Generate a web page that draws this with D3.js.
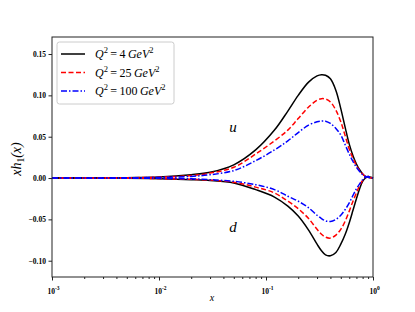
<!DOCTYPE html>
<html><head><meta charset="utf-8">
<script src="https://cdn.jsdelivr.net/npm/d3@7"></script>
<style>body{margin:0;background:#fff}svg{display:block}</style>
</head><body><svg id="c" width="415" height="312"></svg>
<script>
const xs = [0.001,0.002,0.005,0.01,0.02,0.03,0.05,0.08,0.12,0.16,0.2,0.25,0.3,0.33,0.36,0.4,0.45,0.5,0.55,0.6,0.65,0.7,0.75,0.8,0.85,0.9,0.95,1.0];
const u4   = [0,0.0001,0.0005,0.0012,0.004,0.007,0.016,0.034,0.058,0.081,0.100,0.116,0.1235,0.125,0.1243,0.120,0.106,0.084,0.061,0.041,0.027,0.017,0.010,0.005,0.002,0.001,0.0003,0];
const u25  = [0,0.0001,0.0004,0.001,0.003,0.006,0.013,0.029,0.045,0.058,0.072,0.086,0.094,0.096,0.0956,0.092,0.082,0.068,0.051,0.035,0.024,0.015,0.009,0.005,0.002,0.001,0.0003,0];
const u100 = [0,0.0001,0.0003,0.0008,0.002,0.004,0.009,0.021,0.034,0.045,0.055,0.064,0.068,0.069,0.0688,0.066,0.060,0.052,0.040,0.029,0.020,0.013,0.008,0.004,0.002,0.001,0.0003,0];
const d4   = [0,-0.0001,-0.0003,-0.0008,-0.002,-0.003,-0.006,-0.014,-0.023,-0.034,-0.046,-0.063,-0.080,-0.088,-0.093,-0.094,-0.090,-0.080,-0.068,-0.054,-0.039,-0.025,-0.013,-0.004,0.000,0.002,0.001,0];
const d25  = [0,-0.0001,-0.0002,-0.0006,-0.0015,-0.0025,-0.005,-0.011,-0.018,-0.028,-0.037,-0.049,-0.062,-0.068,-0.0715,-0.0726,-0.069,-0.062,-0.052,-0.040,-0.028,-0.018,-0.009,-0.003,0.001,0.002,0.001,0];
const d100 = [0,-0.0001,-0.0002,-0.0004,-0.001,-0.002,-0.004,-0.008,-0.014,-0.022,-0.028,-0.036,-0.045,-0.049,-0.0518,-0.0525,-0.050,-0.045,-0.038,-0.030,-0.021,-0.013,-0.007,-0.002,0.001,0.002,0.001,0];
const yTicks = [-0.10,-0.05,0.00,0.05,0.10,0.15];
const xTicks = [1e-3,1e-2,1e-1,1];
const xExp = ["-3","-2","-1","0"];
const legendLabels = ["4","25","100"];
const colors = ["#000000","#ff0000","#0000ff"];
const dashes = [null,"5,2.5","6,2,1.5,2"];

const svg = d3.select("#c");
const L=52,R=373,T=37,B=277;
const x = d3.scaleLog().domain([1e-3,1]).range([L,R]);
const y = d3.scaleLinear().domain([-0.1197,0.1706]).range([B,T]);
const serif = "'Liberation Serif','DejaVu Serif',serif";

const series = [[u4,d4],[u25,d25],[u100,d100]];
const line = d3.line().x(d=>x(d[0])).y(d=>y(d[1])).curve(d3.curveCatmullRom.alpha(0.5));
const g = svg.append("g");
series.forEach((pair,i)=>{
  pair.forEach(vals=>{
    g.append("path").datum(xs.map((v,j)=>[v,vals[j]]))
      .attr("d",line).attr("fill","none").attr("stroke",colors[i])
      .attr("stroke-width",1.5).attr("stroke-dasharray",dashes[i]);
  });
});

// frame
svg.append("rect").attr("x",L).attr("y",T).attr("width",R-L).attr("height",B-T)
  .attr("fill","none").attr("stroke","#222").attr("stroke-width",1);

// y axis
const yAx = svg.append("g").attr("transform",`translate(${L},0)`)
  .call(d3.axisLeft(y).tickValues(yTicks).tickSize(3.5).tickPadding(2.5).tickFormat(d3.format(".2f")));
yAx.select(".domain").remove();
yAx.selectAll("line").attr("stroke","#222");
yAx.selectAll("text").attr("font-family",serif).attr("font-weight","bold").attr("font-size",7.5).attr("fill","#000");

// x axis
const minor = [];
for(let e=-3;e<0;e++) for(let k=2;k<=9;k++) minor.push(k*Math.pow(10,e));
const xAxMinor = svg.append("g").attr("transform",`translate(0,${B})`)
  .call(d3.axisBottom(x).tickValues(minor).tickSize(2).tickFormat(""));
xAxMinor.select(".domain").remove();
xAxMinor.selectAll("line").attr("stroke","#222");
const xAx = svg.append("g").attr("transform",`translate(0,${B})`)
  .call(d3.axisBottom(x).tickValues(xTicks).tickSize(3.5).tickFormat(()=>""));
xAx.select(".domain").remove();
xAx.selectAll("line").attr("stroke","#222");
xAx.selectAll(".tick").each(function(d,i){
  const t = d3.select(this).append("text").attr("x",1).attr("y",17).attr("text-anchor","middle")
    .attr("font-family",serif).attr("font-weight","bold").attr("font-size",7.5).attr("fill","#000");
  t.append("tspan").text("10");
  t.append("tspan").attr("dy",-4).attr("font-size",5.5).text(xExp[i]);
});

// axis labels
svg.append("text").attr("x",212).attr("y",301).attr("text-anchor","middle")
  .attr("font-family",serif).attr("font-style","italic").attr("font-size",10).text("x");
const yl = svg.append("text").attr("transform","translate(21,159) rotate(-90)").attr("text-anchor","middle")
  .attr("font-family",serif).attr("font-style","italic").attr("font-size",14);
yl.append("tspan").text("xh");
yl.append("tspan").attr("dy",3).attr("font-size",9.5).attr("font-style","normal").text("1");
yl.append("tspan").attr("dy",-3).text("(x)");

// annotations
svg.append("text").attr("x",233).attr("y",132).attr("text-anchor","middle")
  .attr("font-family",serif).attr("font-style","italic").attr("font-size",15).text("u");
svg.append("text").attr("x",233).attr("y",232).attr("text-anchor","middle")
  .attr("font-family",serif).attr("font-style","italic").attr("font-size",15).text("d");

// legend
const lg = svg.append("g");
lg.append("rect").attr("x",57).attr("y",42).attr("width",117).attr("height",62).attr("rx",2.5)
  .attr("fill","#fff").attr("fill-opacity",0.85).attr("stroke","#ccc").attr("stroke-width",1);
legendLabels.forEach((lab,i)=>{
  const yy = 54 + i*18.5;
  lg.append("line").attr("x1",61).attr("x2",85).attr("y1",yy).attr("y2",yy)
    .attr("stroke",colors[i]).attr("stroke-width",1.5).attr("stroke-dasharray",dashes[i]);
  const t = lg.append("text").attr("x",95).attr("y",yy+4)
    .attr("font-family",serif).attr("font-style","italic").attr("font-size",12);
  t.append("tspan").text("Q");
  t.append("tspan").attr("dy",-5).attr("font-size",8.5).attr("font-style","normal").text("2");
  t.append("tspan").attr("dy",5).attr("font-style","normal").text("\u2009=\u2009"+lab+"\u2009");
  t.append("tspan").text("GeV");
  t.append("tspan").attr("dy",-5).attr("font-size",8.5).attr("font-style","normal").text("2");
});
</script></body></html>
